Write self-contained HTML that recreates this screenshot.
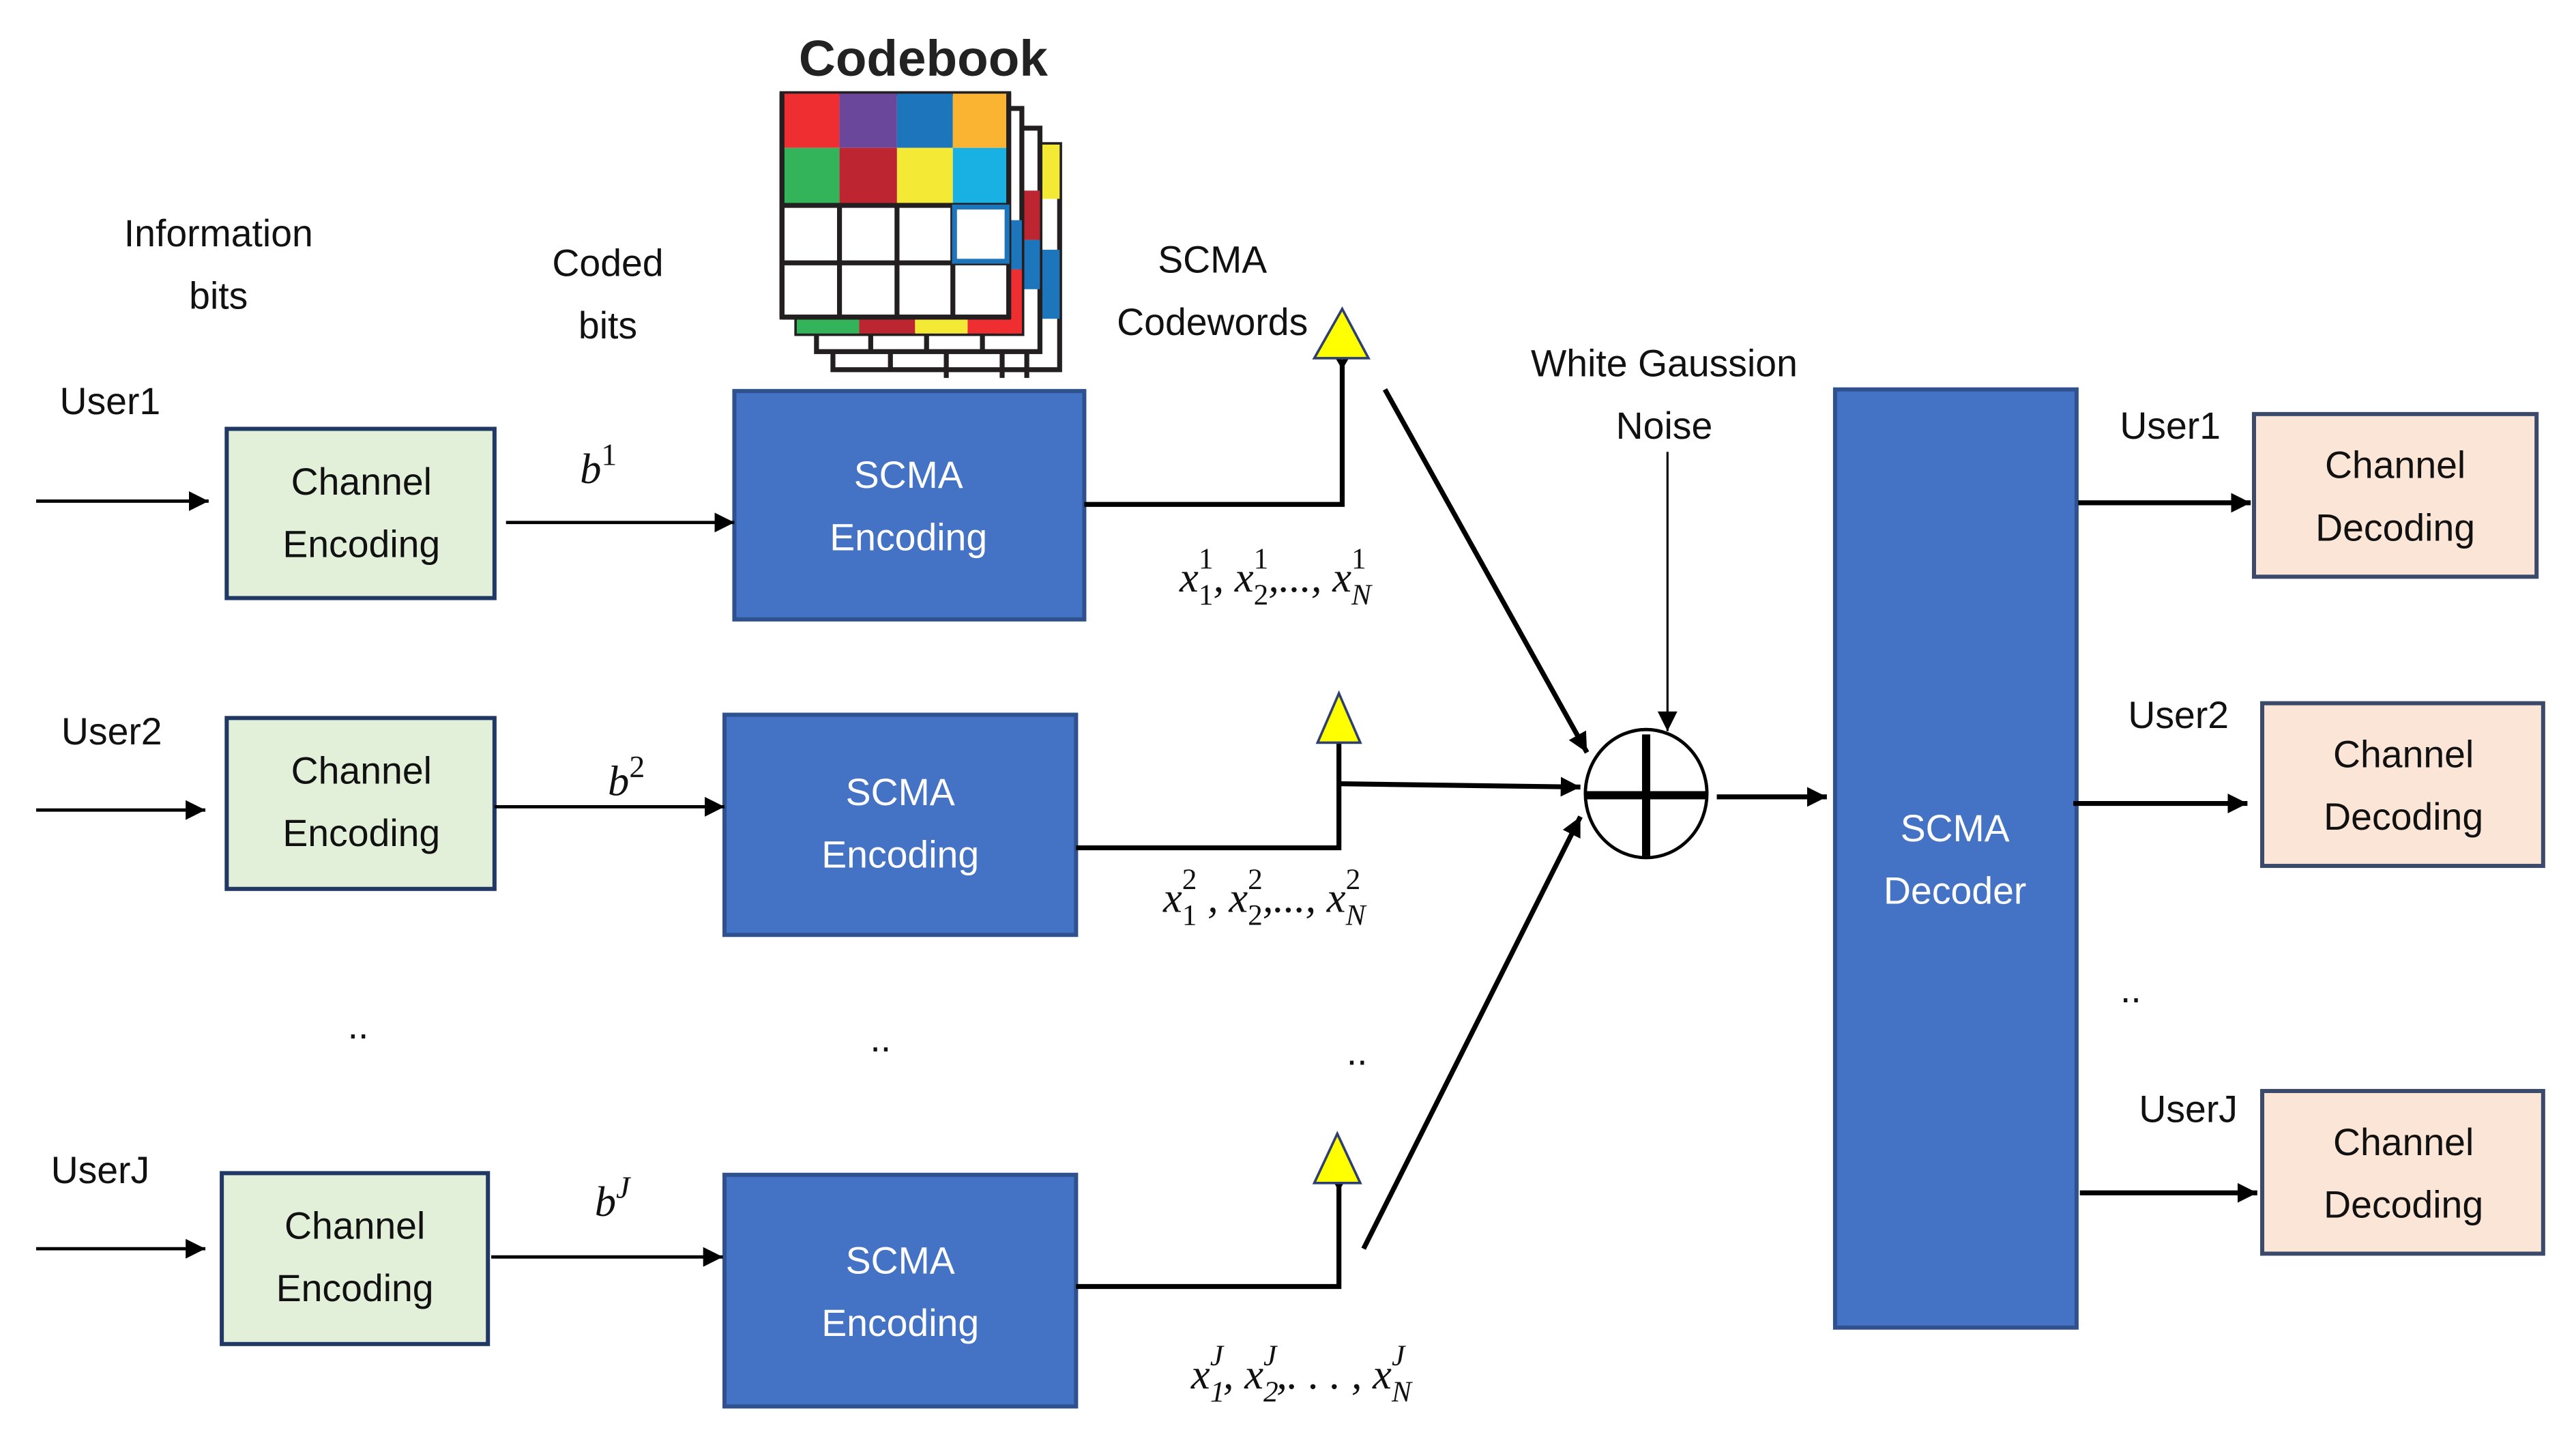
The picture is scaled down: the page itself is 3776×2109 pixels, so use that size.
<!DOCTYPE html>
<html><head><meta charset="utf-8"><style>
html,body{margin:0;padding:0;background:#fff;}
svg{display:block;}
.t{font-family:"Liberation Sans",sans-serif;font-size:23px;fill:#111;text-anchor:middle;}
.w{fill:#fff;}
.m{font-family:"Liberation Serif",serif;font-style:italic;font-size:26px;fill:#111;}
</style></head><body>
<svg width="3776" height="2109" viewBox="0 0 1568 875.8" preserveAspectRatio="none" xmlns="http://www.w3.org/2000/svg">
<defs>
<marker id="a" markerUnits="userSpaceOnUse" markerWidth="14" markerHeight="14" refX="12" refY="6" orient="auto"><path d="M0,0 L12,6 L0,12 Z" fill="#000"/></marker>
<marker id="v" markerUnits="userSpaceOnUse" markerWidth="16" markerHeight="16" refX="1" refY="8" orient="auto"><path d="M13,1 L1,8 L13,15" fill="none" stroke="#000" stroke-width="3"/></marker>
</defs>
<rect width="1568" height="875.8" fill="#fff"/>

<text x="562" y="46" style="font-family:'Liberation Sans',sans-serif;font-size:31px;font-weight:bold;text-anchor:middle;fill:#222">Codebook</text>
<g stroke="#231f20" stroke-width="3" fill="#fff">
<rect x="507" y="88" width="138" height="137"/>
<rect x="622" y="88" width="23" height="33" fill="#f4ea35" stroke="none"/>
<rect x="622" y="152" width="23" height="42" fill="#1d75bc" stroke="none"/>
<line x1="542" y1="214" x2="542" y2="225"/><line x1="576" y1="214" x2="576" y2="230"/><line x1="610" y1="214" x2="610" y2="230"/><line x1="625" y1="214" x2="625" y2="230"/>
<rect x="497" y="78" width="136" height="136"/>
<rect x="611" y="116" width="22" height="30" fill="#bd2630" stroke="none"/>
<rect x="611" y="146" width="22" height="30" fill="#1d75bc" stroke="none"/>
<line x1="530" y1="203" x2="530" y2="214"/><line x1="564" y1="203" x2="564" y2="214"/><line x1="598" y1="203" x2="598" y2="214"/>
<rect x="485" y="66" width="137" height="137"/>
<rect x="485" y="190" width="38" height="13" fill="#34b45a" stroke="none"/>
<rect x="523" y="190" width="34" height="13" fill="#bd2630" stroke="none"/>
<rect x="557" y="190" width="32" height="13" fill="#f4ea35" stroke="none"/>
<rect x="589" y="190" width="33" height="13" fill="#ee2e31" stroke="none"/>
<rect x="607" y="134" width="15" height="30" fill="#1d75bc" stroke="none"/>
<rect x="607" y="164" width="15" height="39" fill="#ee2e31" stroke="none"/>
<rect x="476" y="57" width="138" height="136"/>
<rect x="476" y="57" width="35" height="33" fill="#ee2e31" stroke="none"/>
<rect x="511" y="57" width="35" height="33" fill="#6b479c" stroke="none"/>
<rect x="546" y="57" width="34" height="33" fill="#1d75bc" stroke="none"/>
<rect x="580" y="57" width="34" height="33" fill="#fbb431" stroke="none"/>
<rect x="476" y="90" width="35" height="35" fill="#34b45a" stroke="none"/>
<rect x="511" y="90" width="35" height="35" fill="#bd2630" stroke="none"/>
<rect x="546" y="90" width="34" height="35" fill="#f4ea35" stroke="none"/>
<rect x="580" y="90" width="34" height="35" fill="#19b1e3" stroke="none"/>
<line x1="476" y1="125" x2="614" y2="125"/><line x1="476" y1="160" x2="614" y2="160"/>
<line x1="511" y1="125" x2="511" y2="193"/><line x1="546" y1="125" x2="546" y2="193"/><line x1="580" y1="125" x2="580" y2="193"/>
<line x1="476" y1="57" x2="476" y2="193"/><line x1="614" y1="57" x2="614" y2="193"/><line x1="476" y1="193" x2="614" y2="193"/>
<rect x="581" y="126" width="32" height="33" stroke="#1d75bc" stroke-width="3" fill="none"/>
</g>

<text class="t" x="133" y="150">Information</text>
<text class="t" x="133" y="188">bits</text>
<text class="t" x="370" y="168">Coded</text>
<text class="t" x="370" y="206">bits</text>
<text class="t" x="738" y="166">SCMA</text>
<text class="t" x="738" y="204">Codewords</text>
<text class="t" x="1013" y="229">White Gaussion</text>
<text class="t" x="1013" y="267">Noise</text>
<text class="t" x="67" y="252">User1</text>
<text class="t" x="68" y="453">User2</text>
<text class="t" x="61" y="720">UserJ</text>
<text class="t" x="1321" y="267">User1</text>
<text class="t" x="1326" y="443">User2</text>
<text class="t" x="1332" y="683">UserJ</text>
<text class="t" x="218" y="632">..</text>
<text class="t" x="536" y="640">..</text>
<text class="t" x="826" y="648">..</text>
<text class="t" x="1297" y="610">..</text>

<g fill="#e2efd9" stroke="#1f3864" stroke-width="2.5">
<rect x="138" y="261" width="163" height="103"/>
<rect x="138" y="437" width="163" height="104"/>
<rect x="135" y="714" width="162" height="104"/>
</g>
<text class="t" x="220" y="301">Channel</text><text class="t" x="220" y="339">Encoding</text>
<text class="t" x="220" y="477">Channel</text><text class="t" x="220" y="515">Encoding</text>
<text class="t" x="216" y="754">Channel</text><text class="t" x="216" y="792">Encoding</text>

<g fill="#4472c4" stroke="#2f528f" stroke-width="2.5">
<rect x="447" y="238" width="213" height="139"/>
<rect x="441" y="435" width="214" height="134"/>
<rect x="441" y="715" width="214" height="141"/>
<rect x="1117" y="237" width="147" height="571"/>
</g>
<text class="t w" x="553" y="297">SCMA</text><text class="t w" x="553" y="335">Encoding</text>
<text class="t w" x="548" y="490">SCMA</text><text class="t w" x="548" y="528">Encoding</text>
<text class="t w" x="548" y="775">SCMA</text><text class="t w" x="548" y="813">Encoding</text>
<text class="t w" x="1190" y="512">SCMA</text><text class="t w" x="1190" y="550">Decoder</text>

<g fill="#fbe5d6" stroke="#3b4a6b" stroke-width="2.5">
<rect x="1372" y="252" width="172" height="99"/>
<rect x="1377" y="428" width="171" height="99"/>
<rect x="1377" y="664" width="171" height="99"/>
</g>
<text class="t" x="1458" y="291">Channel</text><text class="t" x="1458" y="329">Decoding</text>
<text class="t" x="1463" y="467">Channel</text><text class="t" x="1463" y="505">Decoding</text>
<text class="t" x="1463" y="703">Channel</text><text class="t" x="1463" y="741">Decoding</text>

<g stroke="#000" stroke-width="2" fill="none">
<line x1="22" y1="305" x2="127" y2="305" marker-end="url(#a)"/>
<line x1="22" y1="493" x2="125" y2="493" marker-end="url(#a)"/>
<line x1="22" y1="760" x2="125" y2="760" marker-end="url(#a)"/>
<line x1="308" y1="318" x2="447" y2="318" marker-end="url(#a)"/>
<line x1="301" y1="491" x2="441" y2="491" marker-end="url(#a)"/>
<line x1="299" y1="765" x2="440" y2="765" marker-end="url(#a)"/>
</g>
<g stroke="#000" stroke-width="3" fill="none">
<polyline points="660,307 817,307 817,222" marker-end="url(#v)"/>
<polyline points="655,516 815,516 815,452" marker-end="url(#v)"/>
<polyline points="655,783 815,783 815,722" marker-end="url(#v)"/>
<line x1="815" y1="477" x2="962" y2="479" marker-end="url(#a)"/>
<line x1="843" y1="237" x2="966" y2="458" marker-end="url(#a)"/>
<line x1="830" y1="760" x2="962" y2="497" marker-end="url(#a)"/>
<line x1="1045" y1="485" x2="1112" y2="485" marker-end="url(#a)"/>
<line x1="1265" y1="306" x2="1370" y2="306" marker-end="url(#a)"/>
<line x1="1262" y1="489" x2="1368" y2="489" marker-end="url(#a)"/>
<line x1="1266" y1="726" x2="1374" y2="726" marker-end="url(#a)"/>
</g>
<line x1="1015" y1="275" x2="1015" y2="445" stroke="#000" stroke-width="1.3" marker-end="url(#a)"/>

<g fill="#ffff00" stroke="#2f4070" stroke-width="1.5">
<polygon points="817,188 800,218 833,218"/>
<polygon points="815,422 802,452 828,452"/>
<polygon points="814,690 800,720 828,720"/>
</g>

<ellipse cx="1002" cy="483" rx="37" ry="39" fill="#fff" stroke="#000" stroke-width="2"/>
<line x1="965" y1="484" x2="1039" y2="484" stroke="#000" stroke-width="5"/>
<line x1="1002" y1="447" x2="1002" y2="521" stroke="#000" stroke-width="5"/>

<text class="m" x="353" y="294" font-size="28">b<tspan font-style="normal" font-size="19" dy="-11">1</tspan></text>
<text class="m" x="370" y="484" font-size="28">b<tspan font-style="normal" font-size="19" dy="-11">2</tspan></text>
<text class="m" x="362" y="740" font-size="28">b<tspan font-style="italic" font-size="19" dy="-11">J</tspan></text>

<text class="m" x="718" y="360" font-size="28">x<tspan font-size="18" font-style="normal" dy="8">1</tspan><tspan font-size="18" font-style="normal" dx="-9" dy="-22">1</tspan><tspan dy="14">, x</tspan><tspan font-size="18" font-style="normal" dy="8">2</tspan><tspan font-size="18" font-style="normal" dx="-9" dy="-22">1</tspan><tspan dy="14">,..., x</tspan><tspan font-size="18" dy="8">N</tspan><tspan font-size="18" font-style="normal" dx="-12" dy="-22">1</tspan></text>
<text class="m" x="708" y="555" font-size="28">x<tspan font-size="18" font-style="normal" dy="8">1</tspan><tspan font-size="18" font-style="normal" dx="-9" dy="-22">2</tspan><tspan dy="14"> , x</tspan><tspan font-size="18" font-style="normal" dy="8">2</tspan><tspan font-size="18" font-style="normal" dx="-9" dy="-22">2</tspan><tspan dy="14">,..., x</tspan><tspan font-size="18" dy="8">N</tspan><tspan font-size="18" font-style="normal" dx="-12" dy="-22">2</tspan></text>
<text class="m" x="725" y="845" font-size="28">x<tspan font-size="18" dy="8">1</tspan><tspan font-size="18" dx="-9" dy="-22">J</tspan><tspan dy="14">, x</tspan><tspan font-size="18" dy="8">2</tspan><tspan font-size="18" dx="-9" dy="-22">J</tspan><tspan dy="14">,. . . , x</tspan><tspan font-size="18" dy="8">N</tspan><tspan font-size="18" dx="-12" dy="-22">J</tspan></text>
</svg>
</body></html>
